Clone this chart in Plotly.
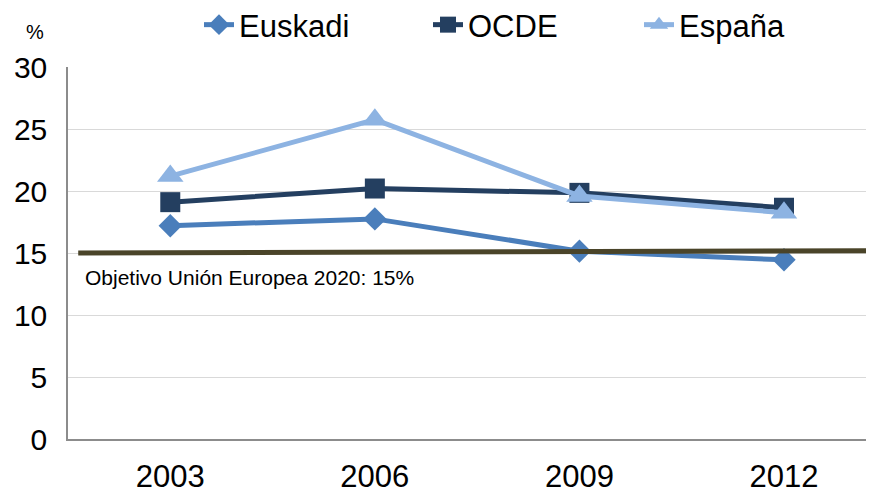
import plotly.graph_objects as go

years = ["2003", "2006", "2009", "2012"]
euskadi = [17.2, 17.75, 15.15, 14.45]
ocde = [19.1, 20.2, 19.85, 18.65]
espana = [21.2, 25.75, 19.6, 18.25]

target_x = [-0.45, 3.43]
target_y = [15.0, 15.18]
target_label = "Objetivo Unión Europea 2020: 15%"

xpos = list(range(len(years)))
FONT = "Liberation Sans, Arial, sans-serif"
OFF = 8  # default page margin of the html body
W, H = 874 - OFF, 493 - OFF
ML, MR, MT, MB = 68 - OFF, 0, 67 - OFF, 54
PW, PH = W - ML - MR, H - MT - MB

fig = go.Figure()
fig.add_trace(go.Scatter(x=xpos, y=euskadi, name="Euskadi", mode="lines+markers",
                         line=dict(color="#4a7ebb", width=5), legend="legend",
                         marker=dict(symbol="diamond", size=18, color="#4a7ebb")))
fig.add_trace(go.Scatter(x=xpos, y=ocde, name="OCDE", mode="lines+markers",
                         line=dict(color="#243f60", width=5), legend="legend2",
                         marker=dict(symbol="square", size=20, color="#243f60")))
fig.add_trace(go.Scatter(x=xpos, y=espana, name="España", mode="lines+markers",
                         line=dict(color="#8db3e2", width=5), legend="legend3",
                         marker=dict(symbol="triangle-up", size=23, color="#8db3e2")))
fig.add_trace(go.Scatter(x=target_x, y=target_y, mode="lines", showlegend=False,
                         line=dict(color="#4a4429", width=5), hoverinfo="skip"))

fig.add_annotation(x=-0.425, y=13.0, xref="x", yref="y", text=target_label,
                   showarrow=False, xanchor="left", yanchor="middle",
                   font=dict(family=FONT, size=21, color="#000000"))
fig.add_annotation(x=(35 - 68) / PW, y=(493 - 32 - 54) / PH, xref="paper", yref="paper",
                   text="%", showarrow=False, xanchor="center", yanchor="middle",
                   font=dict(family=FONT, size=20, color="#000000"))

def leg(text_start):
    return dict(orientation="h", xref="container", yref="container",
                x=(text_start - OFF - 42) / W, xanchor="left",
                y=1 - (25 - OFF) / H, yanchor="middle",
                font=dict(family=FONT, size=31, color="#000000"),
                bgcolor="rgba(0,0,0,0)", itemwidth=30)

fig.update_layout(
    width=W, height=H,
    margin=dict(l=ML, r=MR, t=MT, b=MB, autoexpand=False),
    paper_bgcolor="white", plot_bgcolor="white",
    font=dict(family=FONT, color="#000000"),
    showlegend=True,
    legend=leg(241), legend2=leg(470), legend3=leg(681),
    xaxis=dict(range=[-0.5, 3.44], tickmode="array", tickvals=xpos, ticktext=years,
               showgrid=False, zeroline=False, showline=True, linecolor="#8c8c8c",
               linewidth=1.5, ticks="", tickfont=dict(family=FONT, size=31),
               ticklabelstandoff=9, automargin=False),
    yaxis=dict(range=[0, 30], dtick=5, showgrid=True, gridcolor="#d9d9d9", gridwidth=1,
               zeroline=False, showline=True, linecolor="#8c8c8c", linewidth=1.5,
               ticks="", tickfont=dict(family=FONT, size=30), ticklabelstandoff=13,
               automargin=False),
)

fig.write_html("out.html")
